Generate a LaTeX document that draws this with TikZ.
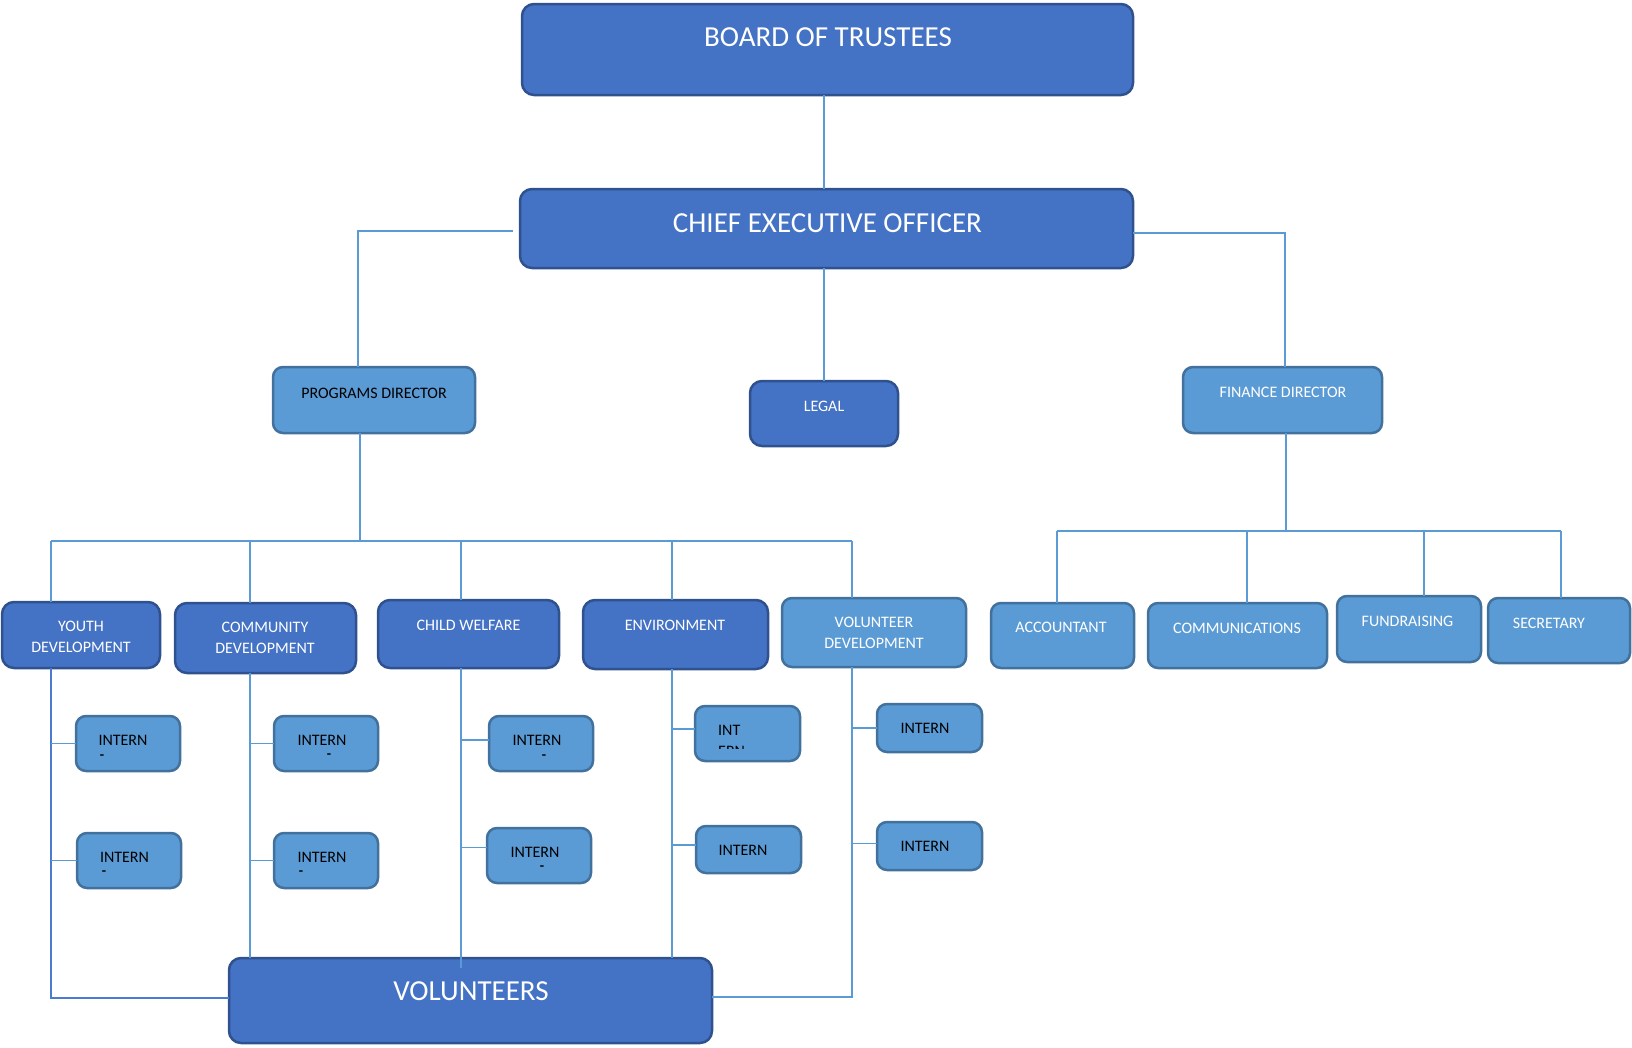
\documentclass[tikz,border=0pt]{standalone}
\usepackage{fontspec}
\setmainfont{Carlito}
\definecolor{dkfill}{HTML}{4472C4}
\definecolor{dkline}{HTML}{2F528F}
\definecolor{ltfill}{HTML}{5B9BD5}
\definecolor{ltline}{HTML}{41719C}
\definecolor{conn}{HTML}{5B9BD5}
\definecolor{conndk}{HTML}{4A7BD0}
\tikzset{
 dkbox/.style={draw=dkline, fill=dkfill, line width=2.5pt, rounded corners=12pt, inner sep=0pt, outer sep=0pt},
 ltbox/.style={draw=ltline, fill=ltfill, line width=2.5pt, rounded corners=10pt, inner sep=0pt, outer sep=0pt},
 bigtxt/.style={text=white, font=\fontsize{29}{35}\selectfont, inner sep=0pt},
 wtxt/.style={text=white, font=\fontsize{16}{21.5}\selectfont, inner sep=0pt, align=center},
 ktxt/.style={text=black, font=\fontsize{16}{21.5}\selectfont, inner sep=0pt, align=center},
 tick/.style={text=black, font=\fontsize{14}{14}\bfseries\selectfont, inner sep=0pt},
 link/.style={draw=conn, line width=1.4pt},
 linkdk/.style={draw=conndk, line width=1.4pt},
}
\newcommand{\orgbox}[6]{\node[#2, minimum width={(#5)-(#3)}, minimum height={(#6)-(#4)}] (#1) at ({((#3)+(#5))/2},{((#4)+(#6))/2}) {};}
\begin{document}
\begin{tikzpicture}[x=1pt,y=-1pt]
\useasboundingbox (0,0) rectangle (1632,1047);
% boxes
\orgbox{board}{dkbox}{522}{4}{1133}{95}
\orgbox{ceo}{dkbox}{520}{189}{1133}{268}
\orgbox{pd}{ltbox}{273}{367}{475}{433}
\orgbox{legal}{dkbox}{750}{381}{898}{446}
\orgbox{fd}{ltbox}{1183}{367}{1382}{433}
\orgbox{yd}{dkbox}{2}{602}{160}{668}
\orgbox{cd}{dkbox}{175}{603}{356}{673}
\orgbox{cw}{dkbox}{378}{600}{559}{668}
\orgbox{env}{dkbox}{583}{600}{768}{669}
\orgbox{vd}{ltbox}{782}{598}{966}{667}
\orgbox{acc}{ltbox}{991}{603}{1134}{668}
\orgbox{com}{ltbox}{1148}{603}{1327}{668}
\orgbox{fun}{ltbox}{1337}{596}{1481}{662}
\orgbox{sec}{ltbox}{1488}{598}{1630}{663}
\orgbox{yi1}{ltbox}{76}{716}{180}{771}
\orgbox{yi2}{ltbox}{77}{833}{181}{888}
\orgbox{ci1}{ltbox}{274}{716}{378}{771}
\orgbox{ci2}{ltbox}{274}{833}{378}{888}
\orgbox{wi1}{ltbox}{489}{716}{593}{771}
\orgbox{wi2}{ltbox}{487}{828}{591}{883}
\orgbox{ei1}{ltbox}{695}{706}{800}{761}
\orgbox{ei2}{ltbox}{696}{826}{801}{873}
\orgbox{vi1}{ltbox}{877}{704}{982}{752}
\orgbox{vi2}{ltbox}{877}{822}{982}{870}
\orgbox{vol}{dkbox}{229}{958}{712}{1043}
% texts
\node[bigtxt] (board-t) at (828,37) {BOARD OF TRUSTEES};
\node[bigtxt] (ceo-t) at (827.5,223) {CHIEF EXECUTIVE OFFICER};
\node[bigtxt] (vol-t) at (471,991) {VOLUNTEERS};
\node[ktxt] (pd-t) at (374,393) {PROGRAMS DIRECTOR};
\node[wtxt] (legal-t) at (824,406) {LEGAL};
\node[wtxt] (fd-t) at (1283,392) {FINANCE DIRECTOR};
\node[wtxt] (yd-t) at (81,637) {YOUTH\\DEVELOPMENT};
\node[wtxt] (cd-t) at (265,638) {COMMUNITY\\DEVELOPMENT};
\node[wtxt] (cw-t) at (468.5,625) {CHILD WELFARE};
\node[wtxt] (env-t) at (675,625) {ENVIRONMENT};
\node[wtxt] (vd-t) at (874,633) {VOLUNTEER\\DEVELOPMENT};
\node[wtxt] (acc-t) at (1061,627) {ACCOUNTANT};
\node[wtxt] (com-t) at (1237,628.5) {COMMUNICATIONS};
\node[wtxt] (fun-t) at (1407.5,621) {FUNDRAISING};
\node[wtxt] (sec-t) at (1549,623) {SECRETARY};
\node[ktxt] (yi1-t) at (123,740) {INTERN};
\node[ktxt] (yi2-t) at (124.5,857) {INTERN};
\node[ktxt] (ci1-t) at (322,740) {INTERN};
\node[ktxt] (ci2-t) at (322,857) {INTERN};
\node[ktxt] (wi1-t) at (537,740) {INTERN};
\node[ktxt] (wi2-t) at (535,852) {INTERN};
\node[ktxt, anchor=west] (ei1-t) at (718,730) {INT};
\begin{scope}
\clip (700,744) rectangle (790,748.5);
\node[ktxt, anchor=west] (ei1-t2) at (718,751.5) {ERN};
\end{scope}
\node[ktxt] (ei2-t) at (743,850) {INTERN};
\node[ktxt] (vi1-t) at (925,728) {INTERN};
\node[ktxt] (vi2-t) at (925,846) {INTERN};
\node[tick] (yi1-d) at (102,757) {-};
\node[tick] (yi2-d) at (104,873) {-};
\node[tick] (ci1-d) at (329,756) {-};
\node[tick] (ci2-d) at (301,873) {-};
\node[tick] (wi1-d) at (544,757) {-};
\node[tick] (wi2-d) at (542,868) {-};
% coordinates
\coordinate (bx) at ([xshift=-3.5pt]board.south);
\coordinate (pb) at ([xshift=-14pt]pd.south);
\coordinate (fb) at ([xshift=3.5pt]fd.south);
\coordinate (p1) at (51,541);
\coordinate (p2) at (250,541);
\coordinate (p3) at (461,541);
\coordinate (p4) at (672,541);
\coordinate (p5) at (852,541);
\coordinate (f1) at (1057,531);
\coordinate (f2) at (1247,531);
\coordinate (f3) at (1424,531);
\coordinate (f4) at (1561,531);
\coordinate (yb) at (51,998);
\coordinate (vb) at (852,997);
\coordinate (wend) at (461,968);
% connectors
\draw[link] (bx) -- (bx |- ceo.north);
\draw[link] (legal.north |- ceo.south) -- (legal.north);
\draw[link] ([xshift=-7pt,yshift=-2.5pt]ceo.west) -| ([xshift=-16pt]pd.north);
\draw[link] ([yshift=-4.5pt]ceo.east) -| ([xshift=2.5pt]fd.north);
\draw[link] (pb) -- (pb |- p1);
\draw[link] (p1) -- (p5);
\draw[link] (p1) -- (p1 |- yd.north);
\draw[link] (p2) -- (p2 |- cd.north);
\draw[link] (p3) -- (p3 |- cw.north);
\draw[link] (p4) -- (p4 |- env.north);
\draw[link] (p5) -- (p5 |- vd.north);
\draw[link] (fb) -- (fb |- f1);
\draw[link] (f1) -- (f4);
\draw[link] (f1) -- (f1 |- acc.north);
\draw[link] (f2) -- (f2 |- com.north);
\draw[link] (f3) -- (f3 |- fun.north);
\draw[link] (f4) -- (f4 |- sec.north);
\draw[linkdk] (p1 |- yd.south) -- (yb) -- (yb -| vol.west);
\draw[link] (p2 |- cd.south) -- (p2 |- vol.north);
\draw[link] (p3 |- cw.south) -- (wend);
\draw[link] (p4 |- env.south) -- (p4 |- vol.north);
\draw[link] (p5 |- vd.south) -- (vb) -- (vb -| vol.east);
\draw[link] (yi1.west) -- (yi1.west -| p1);
\draw[link] (yi2.west) -- (yi2.west -| p1);
\draw[link] (ci1.west) -- (ci1.west -| p2);
\draw[link] (ci2.west) -- (ci2.west -| p2);
\draw[link] (wi1.176) -- (wi1.176 -| p3);
\draw[link] (wi2.171) -- (wi2.171 -| p3);
\draw[link] (ei1.175) -- (ei1.175 -| p4);
\draw[link] (ei2.175) -- (ei2.175 -| p4);
\draw[link] (vi1.west) -- (vi1.west -| p5);
\draw[link] (vi2.177) -- (vi2.177 -| p5);
\end{tikzpicture}
\end{document}
